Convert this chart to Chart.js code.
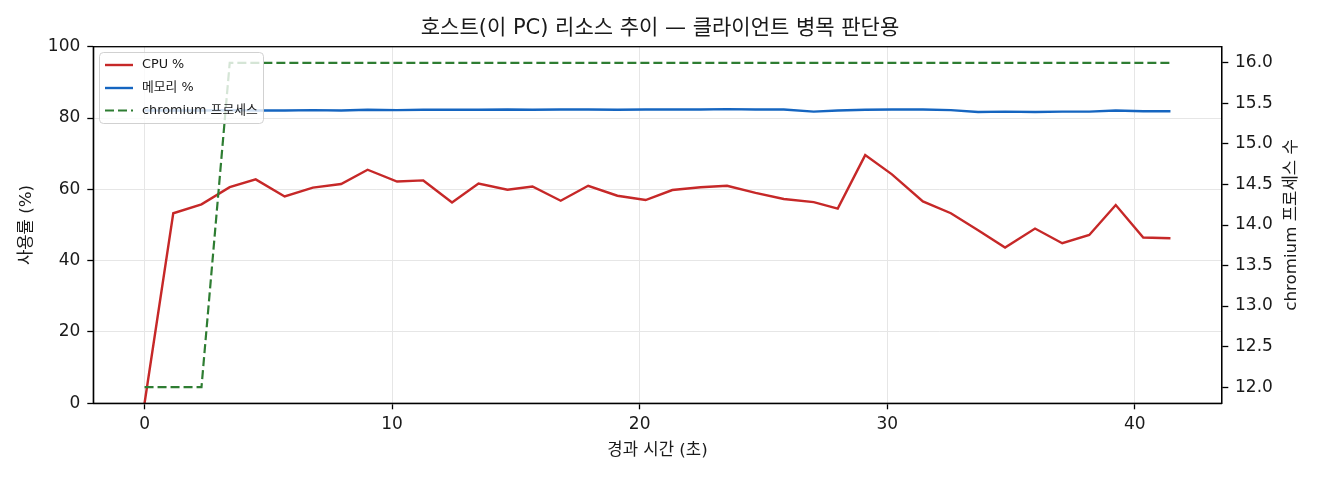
<!DOCTYPE html>
<html>
<head>
<meta charset="utf-8">
<script src="https://cdn.jsdelivr.net/npm/chart.js@4.4.1/dist/chart.umd.min.js"></script>
<style>
  html, body { margin: 0; padding: 0; background: #fff; }
  canvas { display: block; }
</style>
</head>
<body>
<canvas id="hostChart" width="1320" height="480"></canvas>
<script>
/* ================== DATA ================== */
const elapsedSec = [
  0, 1.16, 2.30, 3.44, 4.49, 5.66, 6.80, 7.94, 9.01, 10.20,
  11.26, 12.42, 13.49, 14.66, 15.67, 16.81, 17.92, 19.10, 20.24, 21.32,
  22.46, 23.53, 24.68, 25.82, 27.03, 28.00, 29.11, 30.19, 31.44, 32.57,
  33.67, 34.76, 35.97, 37.07, 38.16, 39.23, 40.34, 41.44
];
const cpuPct = [
  0, 53.3, 55.8, 60.6, 62.8, 58.0, 60.5, 61.5, 65.5, 62.2,
  62.5, 56.3, 61.6, 59.9, 60.8, 56.8, 61.0, 58.2, 57.0, 59.8,
  60.6, 61.0, 59.0, 57.3, 56.4, 54.6, 69.6, 64.2, 56.6, 53.3,
  48.5, 43.7, 49.0, 44.9, 47.2, 55.6, 46.5, 46.3
];
const memPct = [
  82.1, 82.1, 82.1, 82.2, 82.1, 82.1, 82.2, 82.1, 82.3, 82.2,
  82.3, 82.3, 82.3, 82.4, 82.3, 82.4, 82.4, 82.3, 82.4, 82.4,
  82.4, 82.5, 82.4, 82.4, 81.8, 82.1, 82.3, 82.4, 82.4, 82.2,
  81.7, 81.8, 81.7, 81.8, 81.8, 82.1, 81.9, 81.9
];
const chromiumProcs = [
  12, 12, 12, 16, 16, 16, 16, 16, 16, 16,
  16, 16, 16, 16, 16, 16, 16, 16, 16, 16,
  16, 16, 16, 16, 16, 16, 16, 16, 16, 16,
  16, 16, 16, 16, 16, 16, 16, 16
];
const xTicks = [0, 10, 20, 30, 40];
const pctTicks = [0, 20, 40, 60, 80, 100];
const procTicks = [12.0, 12.5, 13.0, 13.5, 14.0, 14.5, 15.0, 15.5, 16.0];

const FONT = "'DejaVu Sans', 'Noto Sans CJK KR', sans-serif";
const TEXT = "#1a1a1a";
const GRID = "#e6e6e6";

/* ================== HELPERS ================== */
const toPoints = ys => ys.map((y, i) => ({ x: elapsedSec[i], y }));
const fixTicks = list => scale => { scale.ticks = list.map(v => ({ value: v })); };

/* spines + legend + right title, drawn like matplotlib */
const decorPlugin = {
  id: "decor",
  afterDatasetsDraw(chart) {
    const { ctx, chartArea: a } = chart;
    ctx.save();
    ctx.strokeStyle = "#000";
    ctx.lineWidth = 1.3;
    ctx.strokeRect(a.left, a.top, a.right - a.left, a.bottom - a.top);
    ctx.restore();
  },
  afterDraw(chart) {
    const { ctx, chartArea: a } = chart;

    // legend box
    ctx.save();
    const bx = 99.5, by = 52.5, bw = 164, bh = 71;
    ctx.beginPath();
    ctx.roundRect(bx, by, bw, bh, 4);
    ctx.fillStyle = "rgba(255,255,255,0.8)";
    ctx.fill();
    ctx.strokeStyle = "rgba(204,204,204,0.9)";
    ctx.lineWidth = 1;
    ctx.stroke();

    const rows = [65, 88, 110.5];
    const legendOrder = [1, 2, 0]; // CPU, memory, chromium
    ctx.font = `12.8px ${FONT}`;
    ctx.textBaseline = "middle";
    legendOrder.forEach((di, r) => {
      const ds = chart.data.datasets[di];
      ctx.beginPath();
      ctx.strokeStyle = ds.borderColor;
      ctx.lineWidth = ds.borderWidth;
      ctx.setLineDash(ds.borderDash || []);
      ctx.moveTo(105, rows[r]);
      ctx.lineTo(133, rows[r]);
      ctx.stroke();
      ctx.setLineDash([]);
      ctx.fillStyle = TEXT;
      ctx.fillText(ds.label, 142, rows[r]);
    });
    ctx.restore();

    // right axis title, reading bottom to top
    ctx.save();
    ctx.translate(1292, (a.top + a.bottom) / 2);
    ctx.rotate(-Math.PI / 2);
    ctx.font = `16.7px ${FONT}`;
    ctx.fillStyle = TEXT;
    ctx.textAlign = "center";
    ctx.textBaseline = "middle";
    ctx.fillText("chromium 프로세스 수", 0, 0);
    ctx.restore();
  }
};

/* ================== CHART ================== */
const ctx = document.getElementById("hostChart").getContext("2d");

new Chart(ctx, {
  type: "line",
  data: {
    datasets: [
      {
        label: "chromium 프로세스",
        data: toPoints(chromiumProcs),
        yAxisID: "y1",
        borderColor: "#2e7d32",
        borderWidth: 2.2,
        borderDash: [9, 4],
        order: 0
      },
      {
        label: "CPU %",
        data: toPoints(cpuPct),
        yAxisID: "y",
        borderColor: "#c62828",
        borderWidth: 2.4,
        order: 2
      },
      {
        label: "메모리 %",
        data: toPoints(memPct),
        yAxisID: "y",
        borderColor: "#1565c0",
        borderWidth: 2.4,
        order: 1
      }
    ]
  },
  options: {
    responsive: false,
    animation: false,
    devicePixelRatio: 1,
    elements: {
      point: { radius: 0, hoverRadius: 0 },
      line: { tension: 0, fill: false }
    },
    layout: { padding: { top: 0, left: 0, right: 0, bottom: 0 } },
    plugins: {
      legend: { display: false },
      tooltip: { enabled: false },
      title: {
        display: true,
        text: "호스트(이 PC) 리소스 추이 — 클라이언트 병목 판단용",
        color: TEXT,
        font: { family: FONT, size: 21, weight: "normal", lineHeight: 1.2 },
        padding: { top: 15.7, bottom: 5.8 }
      }
    },
    scales: {
      x: {
        type: "linear",
        min: -2.07,
        max: 43.51,
        afterBuildTicks: fixTicks(xTicks),
        afterFit: s => { s.height = 76.7; },
        grid: { color: GRID, lineWidth: 1, tickColor: "#000", tickLength: 6, tickWidth: 1.3 },
        border: { display: true, color: "#000", width: 1.3 },
        ticks: { color: TEXT, font: { family: FONT, size: 17 }, padding: 5.5, maxRotation: 0 },
        title: {
          display: true,
          text: "경과 시간 (초)",
          color: TEXT,
          font: { family: FONT, size: 16.7, lineHeight: 1.2 },
          padding: { top: 0, bottom: 19.5 }
        }
      },
      y: {
        type: "linear",
        position: "left",
        min: 0,
        max: 100,
        afterBuildTicks: fixTicks(pctTicks),
        afterFit: s => { s.width = 93.3; },
        grid: { color: GRID, lineWidth: 1, tickColor: "#000", tickLength: 6, tickWidth: 1.3 },
        border: { display: true, color: "#000", width: 1.3 },
        ticks: { color: TEXT, font: { family: FONT, size: 17 }, padding: 7 },
        title: {
          display: true,
          text: "사용률 (%)",
          color: TEXT,
          font: { family: FONT, size: 16.7, lineHeight: 1.2 },
          padding: { top: 17, bottom: 0 }
        }
      },
      y1: {
        type: "linear",
        position: "right",
        min: 11.8,
        max: 16.2,
        afterBuildTicks: fixTicks(procTicks),
        afterFit: s => { s.width = 98.3; },
        grid: { drawOnChartArea: false, color: GRID, tickColor: "#000", tickLength: 6.6, tickWidth: 1.3 },
        border: { display: true, color: "#000", width: 1.3 },
        ticks: {
          color: TEXT,
          font: { family: FONT, size: 17 },
          padding: 6.7,
          callback: v => Number(v).toFixed(1)
        },
        title: { display: false }
      }
    }
  },
  plugins: [decorPlugin]
});
</script>
</body>
</html>
